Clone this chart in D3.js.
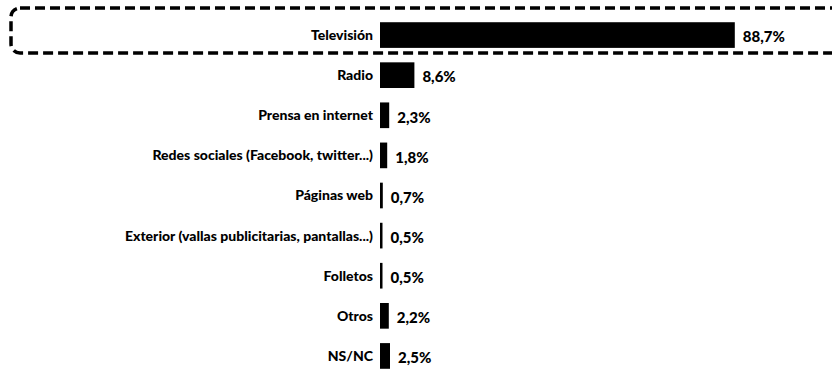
<!DOCTYPE html>
<html>
<head>
<meta charset="utf-8">
<script src="https://cdn.jsdelivr.net/npm/d3@7"></script>
<style>
  html, body { margin: 0; padding: 0; background: #fff; }
  svg { display: block; }
  .cat { font-family: Lato, "Open Sans", sans-serif; font-weight: 900; font-size: 14px; fill: #000; }
  .val { font-family: Lato, "Open Sans", sans-serif; font-weight: 900; font-size: 15px; fill: #000; }
</style>
</head>
<body>
<script>
// Medio por el que se informa (porcentaje de respuestas)
const categories = [
  "Televisión",
  "Radio",
  "Prensa en internet",
  "Redes sociales (Facebook, twitter...)",
  "Páginas web",
  "Exterior (vallas publicitarias, pantallas...)",
  "Folletos",
  "Otros",
  "NS/NC"
];
const values = [88.7, 8.6, 2.3, 1.8, 0.7, 0.5, 0.5, 2.2, 2.5];
const valueLabels = ["88,7%", "8,6%", "2,3%", "1,8%", "0,7%", "0,5%", "0,5%", "2,2%", "2,5%"];
const highlighted = "Televisión";

const width = 832, height = 370;
const barLeft = 380;

const svg = d3.select("body").append("svg")
  .attr("width", width)
  .attr("height", height);

const x = d3.scaleLinear().domain([0, 100]).range([barLeft, barLeft + 400]);
const y = d3.scaleBand()
  .domain(categories)
  .range([15, 376])
  .paddingInner(0.36)
  .paddingOuter(0.18);

const rows = categories.map((c, i) => ({ cat: c, value: values[i], label: valueLabels[i] }));

// Bars (very small shares keep a thin visible sliver)
svg.append("g").selectAll("rect")
  .data(rows)
  .join("rect")
  .attr("x", x(0))
  .attr("y", d => y(d.cat))
  .attr("width", d => Math.max(2.5, x(d.value) - x(0)))
  .attr("height", y.bandwidth())
  .attr("fill", "#000");

// Category labels
svg.append("g").selectAll("text")
  .data(rows)
  .join("text")
  .attr("class", "cat")
  .attr("x", x(0) - 7)
  .attr("y", d => y(d.cat) + y.bandwidth() / 2)
  .attr("dy", "0.35em")
  .attr("text-anchor", "end")
  .text(d => d.cat);

// Value labels
svg.append("g").selectAll("text")
  .data(rows)
  .join("text")
  .attr("class", "val")
  .attr("x", d => Math.max(x(d.value), x(0) + 2.5) + 8)
  .attr("y", d => y(d.cat) + y.bandwidth() / 2 + 2)
  .attr("dy", "0.35em")
  .text(d => d.label);

// Dashed frame around the highlighted row
const hy = y(highlighted) + y.bandwidth() / 2;
svg.append("rect")
  .attr("x", 11)
  .attr("y", hy - 27)
  .attr("width", width + 30)
  .attr("height", 45)
  .attr("rx", 9)
  .attr("fill", "none")
  .attr("stroke", "#000")
  .attr("stroke-width", 3.5)
  .attr("stroke-dasharray", "10,5");
</script>
</body>
</html>
